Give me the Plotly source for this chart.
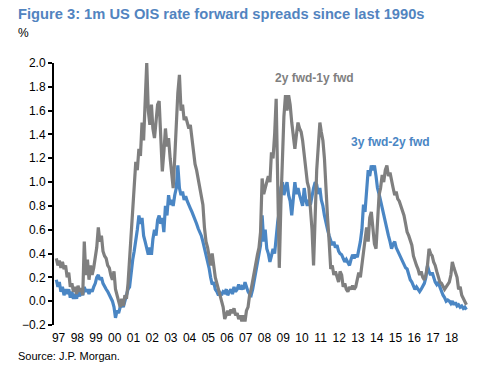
import pandas as pd
import plotly.graph_objects as go

# Monthly readings (Jan 1997 .. Dec 2018), in %
fwd_2y_1y = [
    0.36, 0.30, 0.34, 0.28, 0.33, 0.27, 0.30, 0.20, 0.24, 0.12, 0.15, 0.08,   # 1997
    0.12, 0.06, 0.13, 0.08, 0.11, 0.05, 0.50, 0.22, 0.35, 0.18, 0.30, 0.22,   # 1998
    0.28, 0.38, 0.45, 0.62, 0.50, 0.55, 0.42, 0.38, 0.36, 0.30, 0.28, 0.22,   # 1999
    0.18, 0.25, 0.10, 0.05, 0.00, -0.05, 0.02, -0.04, 0.05, 0.02, 0.15, 0.35, # 2000
    0.60, 0.80, 0.95, 1.17, 1.10, 1.28, 1.22, 1.50, 1.35, 1.65, 2.00, 1.60,   # 2001
    1.48, 1.65, 1.45, 1.37, 1.55, 1.65, 1.68, 1.30, 1.09, 1.25, 1.45, 1.30,   # 2002
    1.37, 1.20, 1.10, 0.95, 1.20, 1.50, 1.75, 1.90, 1.60, 1.65, 1.52, 1.55,   # 2003
    1.50, 1.45, 1.48, 1.35, 1.23, 1.15, 1.10, 1.03, 0.95, 0.88, 0.81, 0.62,   # 2004
    0.50, 0.45, 0.39, 0.30, 0.40, 0.28, 0.20, 0.15, 0.10, 0.05, 0.00, -0.05,  # 2005
    -0.15, -0.10, -0.08, -0.12, -0.07, -0.10, -0.06, -0.12, -0.10, -0.15, -0.12, -0.17,  # 2006
    -0.12, -0.17, -0.08, -0.05, 0.05, 0.10, 0.18, 0.27, 0.33, 0.39, 0.45, 0.58,  # 2007
    1.03, 0.90, 0.95, 1.00, 1.05, 1.00, 1.25, 1.20, 1.40, 1.70, 1.10, 0.28,   # 2008
    0.81, 1.28, 1.55, 1.73, 1.60, 1.73, 1.65, 1.50, 1.40, 1.28, 1.40, 1.50,   # 2009
    1.45, 1.42, 1.35, 1.23, 1.10, 1.00, 0.95, 0.75, 0.60, 0.30, 0.72, 1.10,   # 2010
    1.30, 1.50, 1.42, 1.35, 1.20, 0.89, 0.70, 0.50, 0.27, 0.30, 0.22, 0.25,   # 2011
    0.20, 0.16, 0.25, 0.22, 0.12, 0.15, 0.10, 0.08, 0.12, 0.10, 0.13, 0.10,   # 2012
    0.12, 0.18, 0.24, 0.20, 0.30, 0.45, 0.55, 0.62, 0.50, 0.70, 0.75, 0.60,   # 2013
    0.48, 0.44, 0.70, 0.89, 0.95, 1.06, 1.00, 1.10, 1.14, 1.05, 1.08, 1.00,   # 2014
    0.95, 0.89, 0.92, 0.86, 0.84, 0.80, 0.76, 0.72, 0.65, 0.58, 0.55, 0.50,   # 2015
    0.47, 0.38, 0.33, 0.30, 0.27, 0.22, 0.25, 0.20, 0.18, 0.22, 0.30, 0.44,   # 2016
    0.40, 0.38, 0.33, 0.30, 0.25, 0.20, 0.16, 0.15, 0.12, 0.10, 0.12, 0.14,   # 2017
    0.16, 0.22, 0.33, 0.28, 0.24, 0.20, 0.10, 0.12, 0.05, 0.02, 0.00, -0.03,  # 2018
]

fwd_3y_2y = [
    0.18, 0.12, 0.16, 0.08, 0.12, 0.05, 0.10, 0.06, 0.10, 0.03, 0.08, 0.02,   # 1997
    0.06, 0.02, 0.08, 0.04, 0.10, 0.05, 0.12, 0.08, 0.10, 0.06, 0.10, 0.08,   # 1998
    0.12, 0.15, 0.20, 0.22, 0.18, 0.20, 0.15, 0.12, 0.10, 0.08, 0.05, 0.02,   # 1999
    0.00, -0.05, -0.14, -0.08, -0.10, -0.05, -0.02, -0.05, 0.00, 0.05, 0.10, 0.12,  # 2000
    0.25, 0.35, 0.42, 0.50, 0.60, 0.72, 0.65, 0.70, 0.55, 0.50, 0.45, 0.39,   # 2001
    0.45, 0.39, 0.52, 0.60, 0.55, 0.68, 0.72, 0.65, 0.70, 0.58, 0.80, 0.72,   # 2002
    0.89, 0.81, 0.85, 0.80, 0.89, 0.95, 1.14, 0.95, 0.89, 0.92, 0.85, 0.88,   # 2003
    0.84, 0.80, 0.78, 0.75, 0.72, 0.68, 0.65, 0.61, 0.58, 0.55, 0.50, 0.45,   # 2004
    0.40, 0.33, 0.28, 0.20, 0.14, 0.16, 0.10, 0.08, 0.05, 0.07, 0.05, 0.08,   # 2005
    0.07, 0.10, 0.05, 0.08, 0.10, 0.06, 0.12, 0.08, 0.10, 0.14, 0.10, 0.12,   # 2006
    0.10, 0.16, 0.12, 0.08, 0.06, 0.05, 0.10, 0.18, 0.24, 0.30, 0.40, 0.47,   # 2007
    0.72, 0.50, 0.60, 0.44, 0.40, 0.33, 0.38, 0.44, 0.40, 0.55, 0.67, 0.75,   # 2008
    0.95, 1.00, 0.89, 0.95, 1.00, 0.89, 0.84, 0.72, 0.85, 1.00, 0.90, 0.95,   # 2009
    0.89, 0.85, 0.80, 0.95, 0.85, 0.80, 0.85, 0.81, 0.90, 0.95, 1.00, 0.98,   # 2010
    0.90, 0.95, 0.85, 0.80, 0.72, 0.65, 0.60, 0.55, 0.50, 0.47, 0.50, 0.45,   # 2011
    0.47, 0.42, 0.40, 0.39, 0.36, 0.33, 0.35, 0.33, 0.30, 0.35, 0.39, 0.36,   # 2012
    0.39, 0.37, 0.42, 0.50, 0.60, 0.81, 0.75, 0.95, 1.10, 1.05, 1.14, 1.10,   # 2013
    1.14, 1.05, 0.95, 0.90, 0.84, 0.80, 0.72, 0.65, 0.60, 0.55, 0.50, 0.44,   # 2014
    0.48, 0.50, 0.45, 0.42, 0.39, 0.36, 0.33, 0.30, 0.28, 0.27, 0.22, 0.18,   # 2015
    0.16, 0.12, 0.10, 0.12, 0.10, 0.08, 0.10, 0.12, 0.15, 0.20, 0.30, 0.25,   # 2016
    0.22, 0.24, 0.20, 0.16, 0.14, 0.16, 0.12, 0.08, 0.05, 0.03, 0.00, 0.01,   # 2017
    0.00, -0.02, 0.00, -0.03, -0.01, -0.04, -0.03, -0.05, -0.04, -0.06, -0.05, -0.07,  # 2018
]

dates = pd.date_range("1997-01-01", periods=len(fwd_2y_1y), freq="MS")

years = list(range(1997, 2019))
year_labels = [str(y)[2:] for y in years]
tick_dates = [pd.Timestamp(f"{y}-01-01") for y in years]
label_dates = [pd.Timestamp(f"{y}-02-15") for y in years]

GRAY = "#7f7f7f"
BLUE = "#4a86c4"
FONT = "Liberation Sans, Arial, sans-serif"

fig = go.Figure()
fig.add_trace(go.Scatter(x=dates, y=fwd_3y_2y, mode="lines", name="3y fwd-2y fwd",
                         line=dict(color=BLUE, width=3.2)))
fig.add_trace(go.Scatter(x=dates, y=fwd_2y_1y, mode="lines", name="2y fwd-1y fwd",
                         line=dict(color=GRAY, width=3.2)))

x_start = pd.Timestamp("1996-11-17")
x_end = pd.Timestamp("2019-01-01")

PW = 499 - 54 - 31   # plot width in px
PH = 374 - 63 - 49   # plot height in px

fig.update_layout(
    width=499, height=374,
    margin=dict(l=54, r=31, t=63, b=49),
    paper_bgcolor="white", plot_bgcolor="white",
    showlegend=False,
    font=dict(family=FONT, size=12, color="black"),
    xaxis=dict(range=[x_start, x_end], showgrid=False, zeroline=False, showline=False,
               tickmode="array", tickvals=label_dates, ticktext=year_labels,
               ticks="", ticklabelstandoff=4, tickfont=dict(size=12, color="black"),
               automargin=False),
    xaxis2=dict(range=[x_start, x_end], overlaying="x", anchor="free", position=0.2 / 2.2,
                showgrid=False, zeroline=False, showline=True, linecolor="black", linewidth=2,
                tickmode="array", tickvals=tick_dates, ticks="outside", ticklen=4,
                tickwidth=2, tickcolor="black", showticklabels=False),
    yaxis=dict(range=[-0.2, 2.0], dtick=0.2, tick0=0, tickformat=".1f",
               showgrid=False, zeroline=False, showline=True, linecolor="black", linewidth=2,
               ticks="outside", ticklen=4, tickwidth=2, tickcolor="black",
               tickfont=dict(size=12, color="black"), automargin=False),
)

fig.add_annotation(text="<b>Figure 3: 1m US OIS rate forward spreads since last 1990s</b>",
                   xref="paper", yref="paper", x=(16 - 54) / PW, y=1 + (63 - 14) / PH,
                   xanchor="left", yanchor="middle", showarrow=False,
                   font=dict(family=FONT, size=14.7, color="#5284c0"))
fig.add_annotation(text="%", xref="paper", yref="paper", x=(16 - 54) / PW, y=1 + (63 - 33) / PH,
                   xanchor="left", yanchor="middle", showarrow=False,
                   font=dict(family=FONT, size=12, color="black"))
fig.add_annotation(text="Source: J.P. Morgan.", xref="paper", yref="paper",
                   x=(16 - 54) / PW, y=-(356 - 325) / PH, xanchor="left", yanchor="middle",
                   showarrow=False, font=dict(family=FONT, size=11, color="black"))
fig.add_annotation(text="<b>2y fwd-1y fwd</b>", x=pd.Timestamp("2008-08-01"), y=1.87,
                   xanchor="left", yanchor="middle", showarrow=False,
                   font=dict(family=FONT, size=12, color=GRAY))
fig.add_annotation(text="<b>3y fwd-2y fwd</b>", x=pd.Timestamp("2012-09-01"), y=1.34,
                   xanchor="left", yanchor="middle", showarrow=False,
                   font=dict(family=FONT, size=12, color=BLUE))

fig.write_html("out.html", config={"displayModeBar": False},
               post_script="document.body.style.margin='0';")
